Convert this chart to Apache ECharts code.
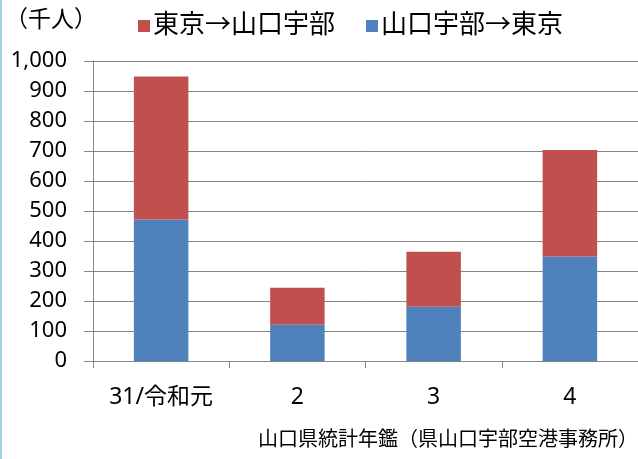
<!DOCTYPE html>
<html>
<head>
<meta charset="utf-8">
<script src="https://cdn.jsdelivr.net/npm/echarts@6/dist/echarts.min.js"></script>
<style>
  html, body { margin: 0; padding: 0; background: #fff; }
  #main { width: 638px; height: 459px; }
</style>
</head>
<body>
<div id="main"></div>
<script>
// 年（令和）
const categories = ["31/令和元", "2", "3", "4"];
// 山口宇部→東京（千人）
const toTokyo = [472, 121, 181, 348];
// 東京→山口宇部（千人）
const fromTokyo = [476, 123, 183, 355];

const nameFrom = "東京→山口宇部";
const nameTo = "山口宇部→東京";
const fontFam = "Noto Sans, Noto Sans CJK JP, sans-serif";
const gray = "#858585";

let myChart = echarts.init(document.getElementById("main"));
let option = {
  animation: false,
  textStyle: { fontFamily: fontFam, color: "#000" },
  color: ["#4F81BD", "#C0504D"],
  legend: {
    data: [nameFrom, nameTo],
    left: 133,
    top: 8,
    icon: "rect",
    itemWidth: 12,
    itemHeight: 12,
    itemGap: 31,
    textStyle: { fontSize: 26, color: "#000", fontFamily: fontFam, padding: [0, 0, 0, -2] }
  },
  graphic: [
    {
      type: "text",
      left: 5,
      top: 9,
      style: { text: "（千人）", fill: "#000", font: "23px " + fontFam }
    },
    {
      type: "text",
      right: 0,
      top: 430,
      style: { text: "山口県統計年鑑（県山口宇部空港事務所）", fill: "#000", font: "20px " + fontFam }
    },
    {
      type: "rect",
      left: 0,
      top: 0,
      shape: { width: 2, height: 459 },
      style: { fill: "#a3d2da" }
    }
  ],
  grid: { left: 93, right: -3, top: 61, bottom: 98 },
  xAxis: {
    type: "category",
    data: categories,
    axisLine: { lineStyle: { color: gray } },
    axisTick: { show: true, length: 7, interval: 0, lineStyle: { color: gray } },
    axisLabel: { fontSize: 23, color: "#000", margin: 25, interval: 0 }
  },
  yAxis: {
    type: "value",
    min: 0,
    max: 1000,
    interval: 100,
    axisLine: { show: true, lineStyle: { color: gray } },
    axisTick: { show: true, length: 9, lineStyle: { color: gray } },
    splitLine: { lineStyle: { color: gray, width: 1 } },
    axisLabel: {
      fontSize: 22,
      color: "#000",
      margin: 26,
      formatter: function (v) { return v.toLocaleString("en-US"); }
    }
  },
  series: [
    {
      name: nameTo,
      type: "bar",
      stack: "total",
      barWidth: "40%",
      data: toTokyo
    },
    {
      name: nameFrom,
      type: "bar",
      stack: "total",
      barWidth: "40%",
      data: fromTokyo
    }
  ]
};
myChart.setOption(option);
window.addEventListener("resize", function () {
  myChart.resize();
});
</script>
</body>
</html>
